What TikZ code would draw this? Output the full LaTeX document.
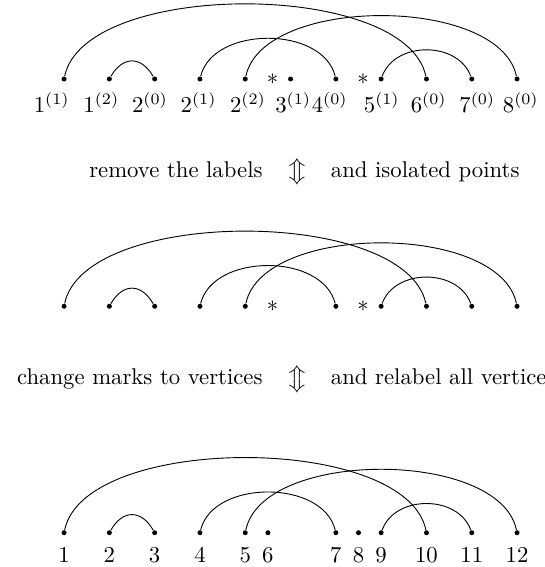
\documentclass[tikz,border=0pt]{standalone}
\usepackage{amsmath}
\usetikzlibrary{positioning}

\begin{document}
\begin{tikzpicture}[
    dot/.style={circle, fill, inner sep=0pt, minimum size=2.2pt},
    lab/.style={inner sep=0pt},
    note/.style={inner sep=0pt}]
  \useasboundingbox (0,0) rectangle (8.422,8.762);

  % 第一行：带标号的点
  \foreach \k in {0,...,10}
    \node[dot] (a\k) at ({0.99+0.7*\k},7.541) {};
  \foreach \k/\t/\x in {0/{1^{(1)}}/0.515, 1/{1^{(2)}}/1.283, 2/{2^{(0)}}/2.034,
      3/{2^{(1)}}/2.786, 4/{2^{(2)}}/3.548, 5/{3^{(1)}}/4.247, 6/{4^{(0)}}/4.811,
      7/{5^{(1)}}/5.617, 8/{6^{(0)}}/6.342, 9/{7^{(0)}}/7.093, 10/{8^{(0)}}/7.765}
    \node[lab, anchor=base west] (la\k) at (\x,7.027) {$\t$};
  \node (sa1) at ({0.99+0.7*4.6},7.541) {$*$};
  \node (sa2) at ({0.99+0.7*6.6},7.541) {$*$};

  % 第二行：去掉标号和孤立点
  \foreach \k in {0,1,2,3,4,6,7,8,9,10}
    \node[dot] (b\k) at ({0.99+0.7*\k},4.029) {};
  \node (sb1) at ({0.99+0.7*4.6},4.029) {$*$};
  \node (sb2) at ({0.99+0.7*6.6},4.029) {$*$};

  % 前两行的弧
  \foreach \r in {a,b} {
    \draw (\r0) .. controls +(78:1.568) and +(102:1.568) .. (\r8);
    \draw (\r1) .. controls +(60:0.416) and +(120:0.416) .. (\r2);
    \draw (\r3) .. controls +(76:0.85) and +(104:0.85) .. (\r6);
    \draw (\r4) .. controls +(78:1.321) and +(102:1.321) .. (\r10);
    \draw (\r7) .. controls +(70:0.625) and +(110:0.625) .. (\r9);
  }

  % 第三行：重新编号的顶点
  \foreach \n/\p in {1/0, 2/1, 3/2, 4/3, 5/4, 6/4.5, 7/6, 8/6.5, 9/7, 10/8, 11/9, 12/10} {
    \node[dot] (c\n) at ({0.99+0.7*\p},0.530) {};
    \node[lab, anchor=base] (lc\n) at ({0.99+0.7*\p},0.066) {$\n$};
  }
  \draw (c1) .. controls +(78:1.568) and +(102:1.568) .. (c10);
  \draw (c2) .. controls +(60:0.416) and +(120:0.416) .. (c3);
  \draw (c4) .. controls +(76:0.85) and +(104:0.85) .. (c7);
  \draw (c5) .. controls +(78:1.321) and +(102:1.321) .. (c12);
  \draw (c9) .. controls +(70:0.625) and +(110:0.625) .. (c11);

  % 中间的说明文字
  \node[note] (ud1) at (4.593,6.109) {$\big\Updownarrow$};
  \node[note, anchor=base east] (rm) at (4.064,6.022) {remove the labels};
  \node[note, anchor=base west] (iso) at (5.107,6.022) {and isolated points};

  \node[note] (ud2) at (4.593,2.900) {$\big\Updownarrow$};
  \node[note, anchor=base east] (chg) at (4.064,2.813) {change marks to vertices};
  \node[note, anchor=base west] (rel) at (5.107,2.813) {and relabel all vertices};
\end{tikzpicture}
\end{document}
